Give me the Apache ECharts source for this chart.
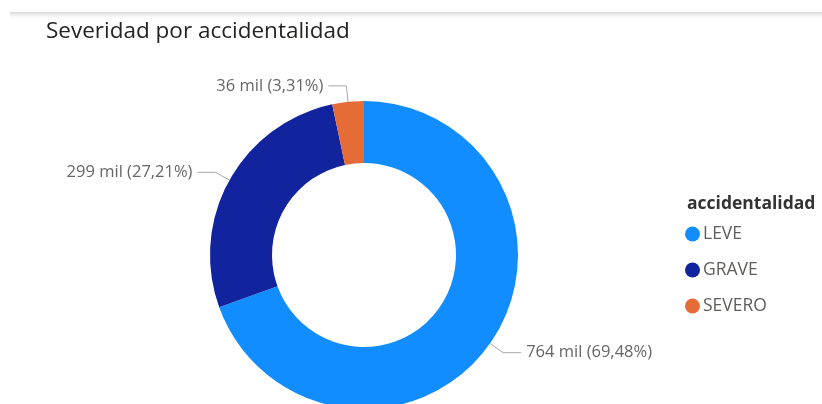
<!DOCTYPE html>
<html><head><meta charset="utf-8">
<script src="https://cdn.jsdelivr.net/npm/echarts@6/dist/echarts.min.js"></script>
<style>html,body{margin:0;padding:0;background:#fff}#c{width:822px;height:404px}</style>
</head><body><div id="c"></div>
<script>
const categories = ['LEVE', 'GRAVE', 'SEVERO'];
const values = [764200, 299300, 36400];
const colors = ['#118DFF', '#12239E', '#E66C37'];

const chart = echarts.init(document.getElementById('c'));
const font = '"Open Sans", "Noto Sans", sans-serif';
chart.setOption({
  animation: false,
  color: colors,
  title: [
    { text: 'Severidad por accidentalidad', left: 41, top: 15,
      textStyle: { fontFamily: font, fontSize: 22.5, fontWeight: 'normal', color: '#252423' } },
    { text: 'accidentalidad', left: 682, top: 190,
      textStyle: { fontFamily: font, fontSize: 17.5, fontWeight: 'bold', color: '#333' } }
  ],
  graphic: [{
    type: 'rect', left: 10, top: 12, shape: { width: 812, height: 8 }, silent: true,
    style: { fill: new echarts.graphic.LinearGradient(0, 0, 0, 1, [
      { offset: 0, color: '#d6d6d6' }, { offset: 1, color: 'rgba(255,255,255,0)' }]) }
  }],
  legend: {
    orient: 'vertical', left: 680, top: 220, icon: 'circle',
    itemWidth: 15, itemHeight: 15, itemGap: 18,
    data: categories,
    textStyle: { fontFamily: font, fontSize: 17.5, color: '#605E5C', padding: [0, 0, 0, -2] }
  },
  series: [{
    type: 'pie',
    center: [364, 255],
    radius: [92, 154],
    startAngle: 90,
    clockwise: true,
    avoidLabelOverlap: false,
    data: categories.map((c, i) => ({ name: c, value: values[i] })),
    label: {
      show: true, position: 'outside',
      fontFamily: font, fontSize: 16.5, color: '#666',
      formatter: p => Math.round(p.value / 1000) + ' mil (' + p.percent.toFixed(2).replace('.', ',') + '%)'
    },
    labelLine: { show: true, length: 16, length2: 18, lineStyle: { color: '#a8a8a8', width: 1 } },
    itemStyle: { borderWidth: 0 }
  }]
});
</script></body></html>
